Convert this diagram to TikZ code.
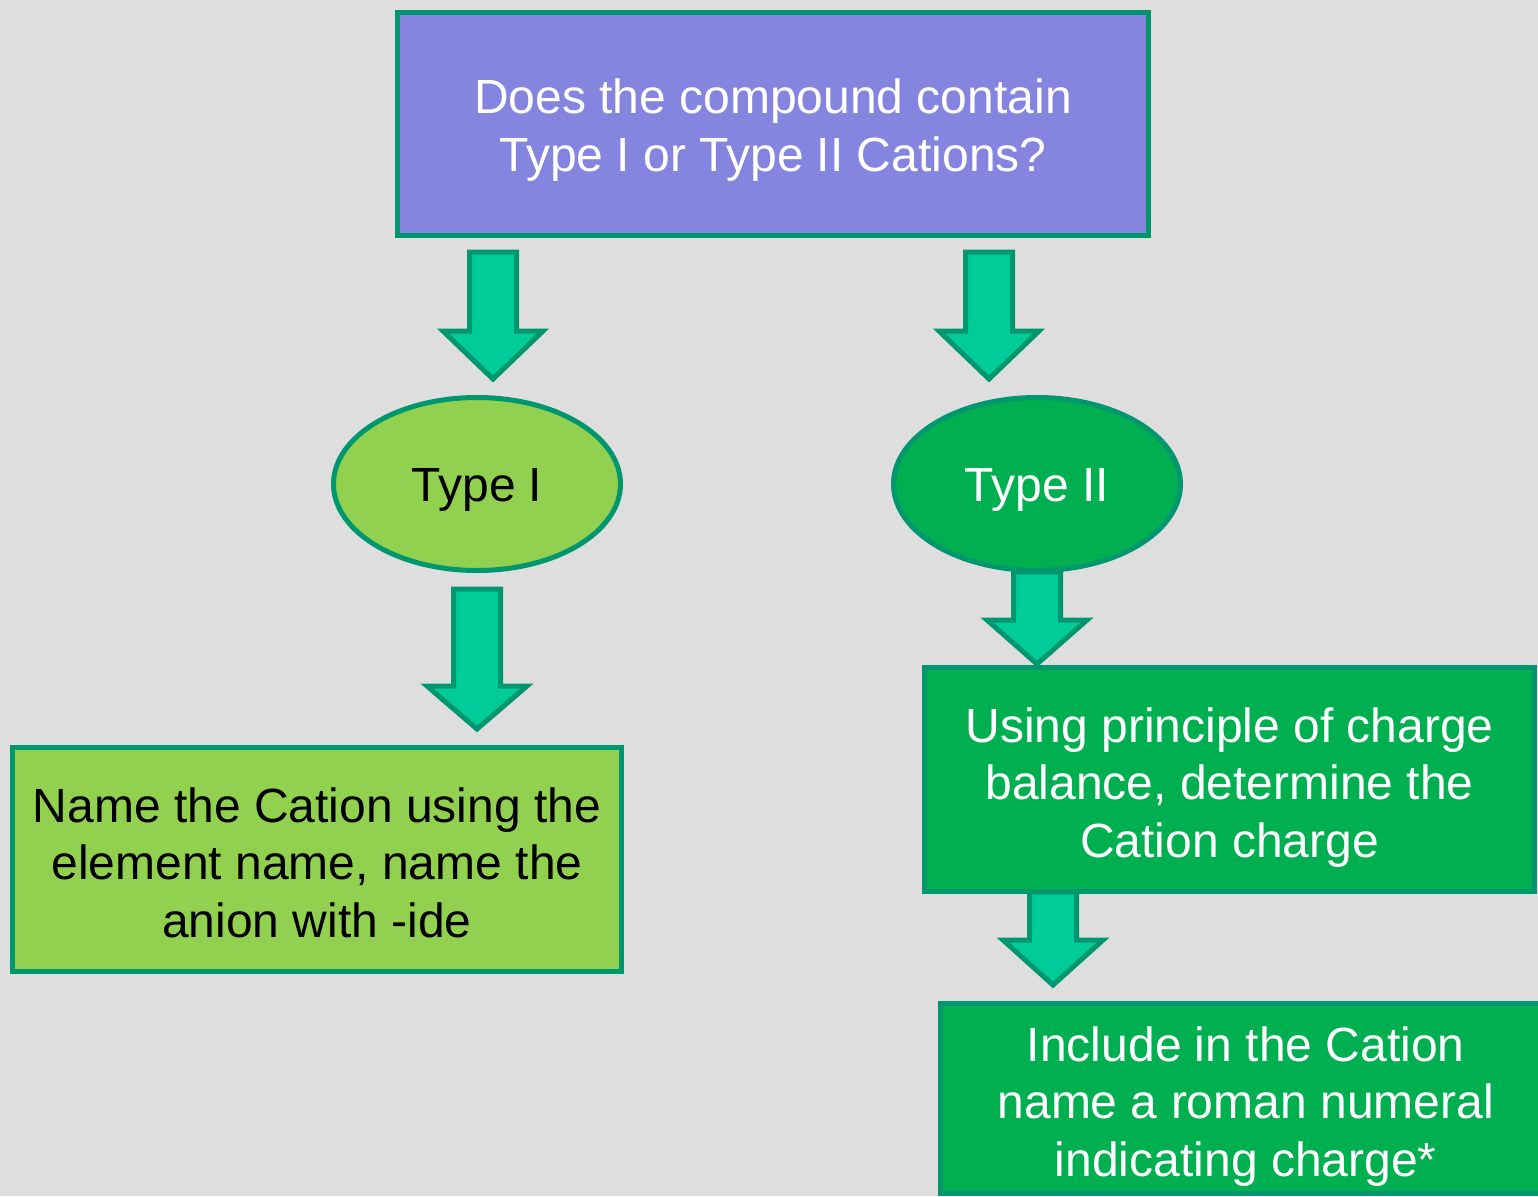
\documentclass[tikz,border=0pt]{standalone}
\usepackage{fontspec}
\setmainfont{Liberation Sans}
\usetikzlibrary{shapes.geometric}
\definecolor{bg}{HTML}{DEDEDE}
\definecolor{edge}{HTML}{00966E}
\definecolor{purp}{HTML}{8585E0}
\definecolor{lgreen}{HTML}{92D050}
\definecolor{dgreen}{HTML}{00AF50}
\definecolor{arrowfill}{HTML}{00CC99}
\newcommand\blockarr[4]{%
  \draw[blockarrow] ({#1-23.5},#2) -- ({#1+23.5},#2) -- ({#1+23.5},#3) -- ({#1+50},#3)
    -- (#1,#4) -- ({#1-50},#3) -- ({#1-23.5},#3) -- cycle;}
\begin{document}
\begin{tikzpicture}[x=0.5pt,y=-0.5pt,
  txt/.style={font=\fontsize{24}{28.75}\selectfont, align=center, inner sep=0pt},
  flowbox/.style={draw=edge, line width=2.5pt, rectangle, inner sep=0pt},
  oval/.style={draw=edge, line width=2.5pt, ellipse, inner sep=0pt,
    minimum width=143.5pt, minimum height=86.5pt},
  blockarrow/.style={draw=edge, fill=arrowfill, line width=2.5pt, line join=miter}]
\useasboundingbox (0,0) rectangle (1538,1196);
\clip (0,0) rectangle (1538,1196);
\fill[bg] (0,0) rectangle (1538,1196);
% block arrows
\blockarr{493}{252}{331}{379}
\blockarr{989}{252}{331}{379}
\blockarr{477}{589}{686}{729}
\blockarr{1037}{572}{620}{664}
\blockarr{1053}{892}{940}{985}
% shapes
\node[flowbox, fill=purp, minimum width=375.5pt, minimum height=111.5pt] (q) at (773,124) {};
\node[oval, fill=lgreen] (t1) at (477,484) {};
\node[oval, fill=dgreen] (t2) at (1037,484) {};
\node[flowbox, fill=lgreen, minimum width=304.5pt, minimum height=112pt] (b1) at (317,859.5) {};
\node[flowbox, fill=dgreen, minimum width=305pt, minimum height=112pt] (b2) at (1229.5,779.5) {};
\node[flowbox, fill=dgreen, minimum width=305.25pt, minimum height=95pt] (b3) at (1245.75,1098.5) {};
% texts
\node[txt, text=white] (qt) at ([yshift=-3pt]q.center) {Does the compound contain\\Type I or Type II Cations?};
\node[txt, text=black] (t1t) at ([yshift=-3pt]t1.center) {Type I};
\node[txt, text=white] (t2t) at ([yshift=-3pt]t2.center) {Type II};
\node[txt, text=black] (b1t) at ([yshift=-1.5pt]b1.center) {Name the Cation using the\\element name, name the\\anion with -ide};
\node[txt, text=white] (b2t) at ([yshift=-4pt]b2.center) {Using principle of charge\\balance, determine the\\Cation charge};
\node[txt, text=white] (b3t) at ([yshift=-4pt]b3.center) {Include in the Cation\\name a roman numeral\\indicating charge*};
\end{tikzpicture}
\end{document}
